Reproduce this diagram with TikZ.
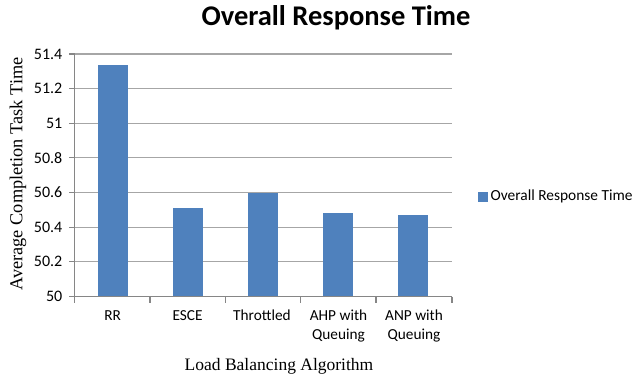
\documentclass[tikz,border=0pt]{standalone}
\usepackage{fontspec}
\setmainfont{Liberation Serif}
\newfontfamily\calfont{Carlito}
\definecolor{barblue}{HTML}{4F81BD}
\definecolor{gridgray}{HTML}{A6A6A6}
\definecolor{axisgray}{HTML}{868686}
\begin{document}
\begin{tikzpicture}[x=1pt,y=-1pt,
  grid/.style={draw=gridgray,line width=1.1pt},
  axisline/.style={draw=axisgray,line width=1.1pt},
  bar/.style={fill=barblue},
  ticklbl/.style={font=\calfont\fontsize{16}{16}\selectfont,inner sep=0pt,text=black},
  leglbl/.style={font=\calfont\fontsize{15.4}{16}\selectfont,inner sep=0pt,text=black},
  catlbl/.style={font=\calfont\fontsize{15.3}{19}\selectfont,inner sep=0pt,align=center,anchor=north},
  axtitle/.style={font=\fontsize{17.5}{20}\selectfont,inner sep=0pt}]
\useasboundingbox (0,0) rectangle (635,380);
% title
\node[font=\calfont\bfseries\fontsize{28.5}{28.5}\selectfont,inner sep=0pt] (title) at (336,18) {Overall Response Time};
% gridlines and y labels
\foreach \v [count=\i from 0] in {50,50.2,50.4,50.6,50.8,51,51.2,51.4}{
  \pgfmathsetmacro{\yy}{296.5-\i*34.64}
  \ifnum\i>0
    \draw[grid] (74.5,\yy) -- (452,\yy);
  \fi
  \draw[axisline] (69,\yy) -- (74.5,\yy);
  \node[ticklbl,anchor=east] (yl\i) at (62.5,\yy) {\v};
}
% bars
\fill[bar] (97.7,296.5) rectangle (127.7,65);
\fill[bar] (172.7,296.5) rectangle (202.5,208.3);
\fill[bar] (248,296.5) rectangle (278.2,192.5);
\fill[bar] (323.3,296.5) rectangle (353.3,213);
\fill[bar] (398.3,296.5) rectangle (428.3,215);
% axes
\draw[axisline] (74.5,54) -- (74.5,296.5);
\draw[axisline] (74.5,296.5) -- (452,296.5);
\foreach \x in {74.5,150,225.5,300.8,376,452}{
  \draw[axisline] (\x,296.5) -- (\x,302.5);
}
% category labels
\node[catlbl] (c1) at (112.7,310) {RR};
\node[catlbl] (c2) at (187.5,310) {ESCE};
\node[catlbl] (c3) at (262,310) {Throttled};
\node[catlbl] (c4) at (338.5,310) {AHP with\\Queuing};
\node[catlbl] (c5) at (414,310) {ANP with\\Queuing};
% axis titles
\node[axtitle] (xt) at (279,366) {Load Balancing Algorithm};
\node[axtitle,rotate=90,font=\fontsize{18.3}{20}\selectfont] (yt) at (18,174) {Average Completion Task Time};
% legend
\fill[barblue] (477.5,192) rectangle (487.5,201.5);
\node[leglbl,anchor=west] (leg) at (490.5,196.5) {Overall Response Time};
\end{tikzpicture}
\end{document}
